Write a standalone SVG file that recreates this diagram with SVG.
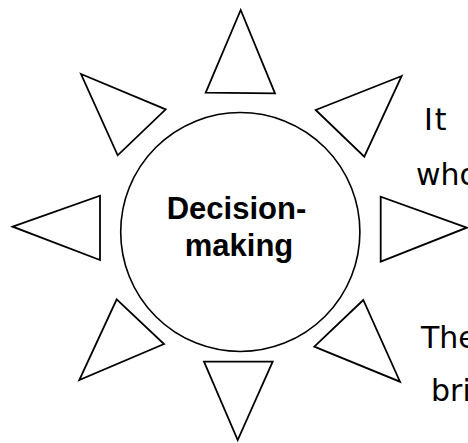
<svg xmlns="http://www.w3.org/2000/svg" width="468" height="443" viewBox="0 0 468 443">
<style>
.ray{fill:#fff;stroke:#000;stroke-width:1.8;stroke-linejoin:miter}
.hub{fill:#fff;stroke:#000;stroke-width:1.6}
.lbl{font-family:"Liberation Sans",Arial,sans-serif;font-weight:bold;font-size:31px;fill:#000;text-anchor:middle}
.side{font-family:"Comic Sans MS","DejaVu Sans",sans-serif;font-size:30px;fill:#000}
</style>
<rect width="468" height="443" fill="#fff"/>
<g id="rays">
<polygon id="ray-n" class="ray" points="240.7,10 205.7,92.7 275,93.3"/>
<polygon id="ray-nw" class="ray" points="81,74 165.7,109.3 117.7,155.3"/>
<polygon id="ray-ne" class="ray" points="401.7,76 315.7,110 364.3,156.7"/>
<polygon id="ray-w" class="ray" points="12.7,226.7 100,195.7 100,260"/>
<polygon id="ray-e" class="ray" points="466.7,227.7 380.7,196.7 380.7,261.7"/>
<polygon id="ray-sw" class="ray" points="116.7,299.3 164,344 79.3,380"/>
<polygon id="ray-se" class="ray" points="363.3,300 314.3,346.7 400,381.7"/>
<polygon id="ray-s" class="ray" points="204,361.7 272.7,361.7 237.7,440"/>
</g>
<g id="hub">
<ellipse class="hub" cx="240.3" cy="232" rx="119.6" ry="119.5"/>
<text class="lbl" x="236.5" y="218.5">Decision-</text>
<text class="lbl" x="239" y="256">making</text>
</g>
<g id="side-text">
<text class="side" x="424" y="130" letter-spacing="2">It</text>
<text class="side" x="416" y="185">who</text>
<text class="side" x="421" y="348">The</text>
<text class="side" x="431" y="401">bri</text>
</g>
</svg>
